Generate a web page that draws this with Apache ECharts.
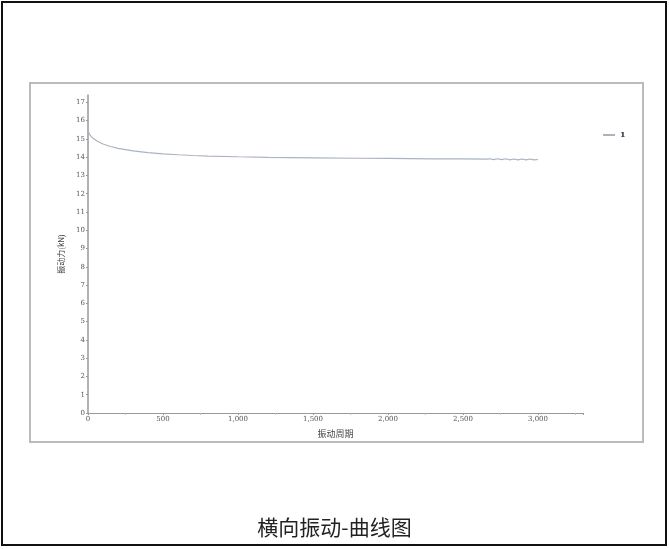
<!DOCTYPE html>
<html><head><meta charset="utf-8">
<script src="https://cdn.jsdelivr.net/npm/echarts@6/dist/echarts.min.js"></script>
<style>html,body{margin:0;padding:0;background:#fff;}#c{width:669px;height:549px;}</style>
</head><body><div id="c"></div>
<script>
const titleText = '横向振动-曲线图';
const seriesName = '1';
const xName = '振动周期';
const yName = '振动力(kN)';
const cycles = [0, 10, 30, 60, 100, 150, 200, 300, 400, 500, 600, 700, 800, 1000, 1200, 1500, 1800, 2000, 2300, 2500, 2650,
  2677, 2704, 2731, 2758, 2785, 2812, 2839, 2866, 2893, 2920, 2947, 2974, 3000];
const force = [15.45, 15.25, 15.05, 14.88, 14.72, 14.58, 14.48, 14.34, 14.25, 14.18, 14.13, 14.09, 14.06, 14.02, 13.99, 13.96, 13.94, 13.93, 13.91, 13.9, 13.89,
  13.91, 13.86, 13.91, 13.86, 13.91, 13.85, 13.9, 13.85, 13.9, 13.85, 13.9, 13.85, 13.87];

const chart = echarts.init(document.getElementById('c'));
chart.setOption({
  animation: false,
  backgroundColor: '#fff',
  title: {
    text: titleText, left: 'center', top: 512,
    textStyle: { fontFamily: 'Noto Sans CJK SC', fontWeight: 'normal', fontSize: 21, color: '#222' }
  },
  graphic: [
    { type: 'rect', shape: { x: 2, y: 2, width: 664, height: 543 }, style: { fill: 'none', stroke: '#111', lineWidth: 2 }, z: 0 },
    { type: 'rect', shape: { x: 30, y: 83, width: 613, height: 359 }, style: { fill: 'none', stroke: '#bbb', lineWidth: 2 }, z: 0 }
  ],
  legend: {
    data: [seriesName], left: 598, top: 126, itemWidth: 12, itemHeight: 2,
    icon: 'rect',
    textStyle: { fontSize: 8, fontWeight: 'bold', color: '#333', fontFamily: 'DejaVu Serif' }
  },
  grid: { left: 88, right: 86, top: 95, bottom: 136 },
  xAxis: {
    type: 'value', min: 0, max: 3300, interval: 500,
    name: xName, nameLocation: 'middle', nameGap: 16,
    nameTextStyle: { fontSize: 9, color: '#444', fontFamily: 'Noto Sans CJK SC' },
    axisLine: { lineStyle: { color: '#999' } },
    axisTick: { length: 2, lineStyle: { color: '#999' } },
    minorTick: { show: true, splitNumber: 2, length: 2, lineStyle: { color: '#bbb' } },
    axisLabel: { fontSize: 7, color: '#555', fontFamily: 'DejaVu Serif', margin: 3, showMaxLabel: false },
    splitLine: { show: false }
  },
  yAxis: {
    type: 'value', min: 0, max: 17.4, interval: 1,
    name: yName, nameLocation: 'middle', nameGap: 20, nameRotate: 90,
    nameTextStyle: { fontSize: 8, color: '#444', fontFamily: 'Noto Sans CJK SC' },
    axisLine: { show: true, lineStyle: { color: '#999', width: 1.5 } },
    axisTick: { show: true, length: 2, lineStyle: { color: '#999' } },
    axisLabel: { fontSize: 7, color: '#555', fontFamily: 'DejaVu Serif', margin: 3, showMaxLabel: false },
    splitLine: { show: false }
  },
  series: [{
    name: seriesName, type: 'line', showSymbol: false, smooth: false,
    data: cycles.map((c, i) => [c, force[i]]),
    lineStyle: { color: '#aab4c0', width: 1.2 },
    itemStyle: { color: '#aab4c0' }
  }]
});
</script></body></html>
